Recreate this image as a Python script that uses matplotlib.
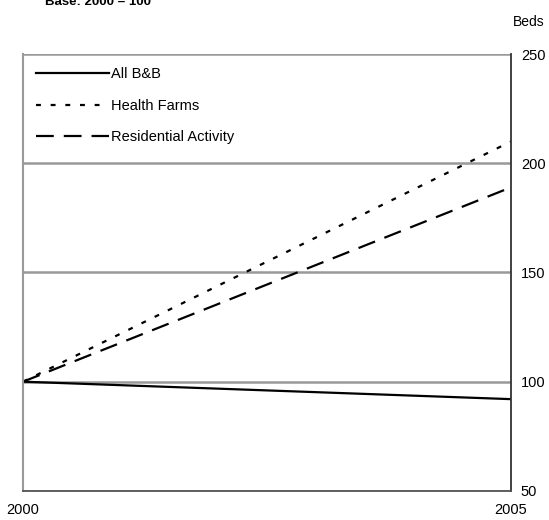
import matplotlib.pyplot as plt

plt.rcParams['font.family'] = ['Liberation Sans', 'DejaVu Sans']

# index values, base 2000 = 100
years = [2000, 2005]
all_bb = [100, 92]
health_farms = [100, 210]
residential = [100, 189]

fig = plt.figure(figsize=(5.49, 5.20), dpi=100)
ax = fig.add_axes([0.042, 0.056, 0.889, 0.84])

lw = 1.6
ax.plot(years, all_bb, color='black', lw=lw, label='All B&B')
ax.plot(years, health_farms, color='black', lw=lw, ls=(0, (2.2, 4.4)), label='Health Farms')
ax.plot(years, residential, color='black', lw=lw, ls=(0, (8.0, 4.5)), label='Residential Activity')

ax.set_xlim(2000, 2005)
ax.set_ylim(50, 250)
ax.set_xticks(years)
ax.set_xticklabels(['2000', '2005'])
ax.set_yticks([50, 100, 150, 200, 250])
ax.yaxis.tick_right()
ax.tick_params(length=0, labelsize=10.5, pad=7)
ax.tick_params(axis='x', pad=9)

ax.grid(axis='y', color='#999999', lw=1.8)
ax.set_axisbelow(True)
ax.spines['top'].set_visible(False)
ax.spines['left'].set_color('#999999')
ax.spines['left'].set_linewidth(1.5)
ax.spines['right'].set_color('#333333')
ax.spines['right'].set_linewidth(1.3)
ax.spines['bottom'].set_color('#555555')
ax.spines['bottom'].set_linewidth(1.3)

ax.legend(loc='upper left', frameon=False, fontsize=10.5, handlelength=5.0,
          handletextpad=0.1, labelspacing=1.2, borderaxespad=0.0,
          bbox_to_anchor=(0.015, 0.983))

fig.text(0.935, 0.957, 'Beds', fontsize=10, ha='left', va='center')
fig.text(0.082, 0.99, 'Base: 2000 = 100', fontsize=9.5, fontweight='bold',
         ha='left', va='baseline')

fig.savefig('out.png', dpi=100)
